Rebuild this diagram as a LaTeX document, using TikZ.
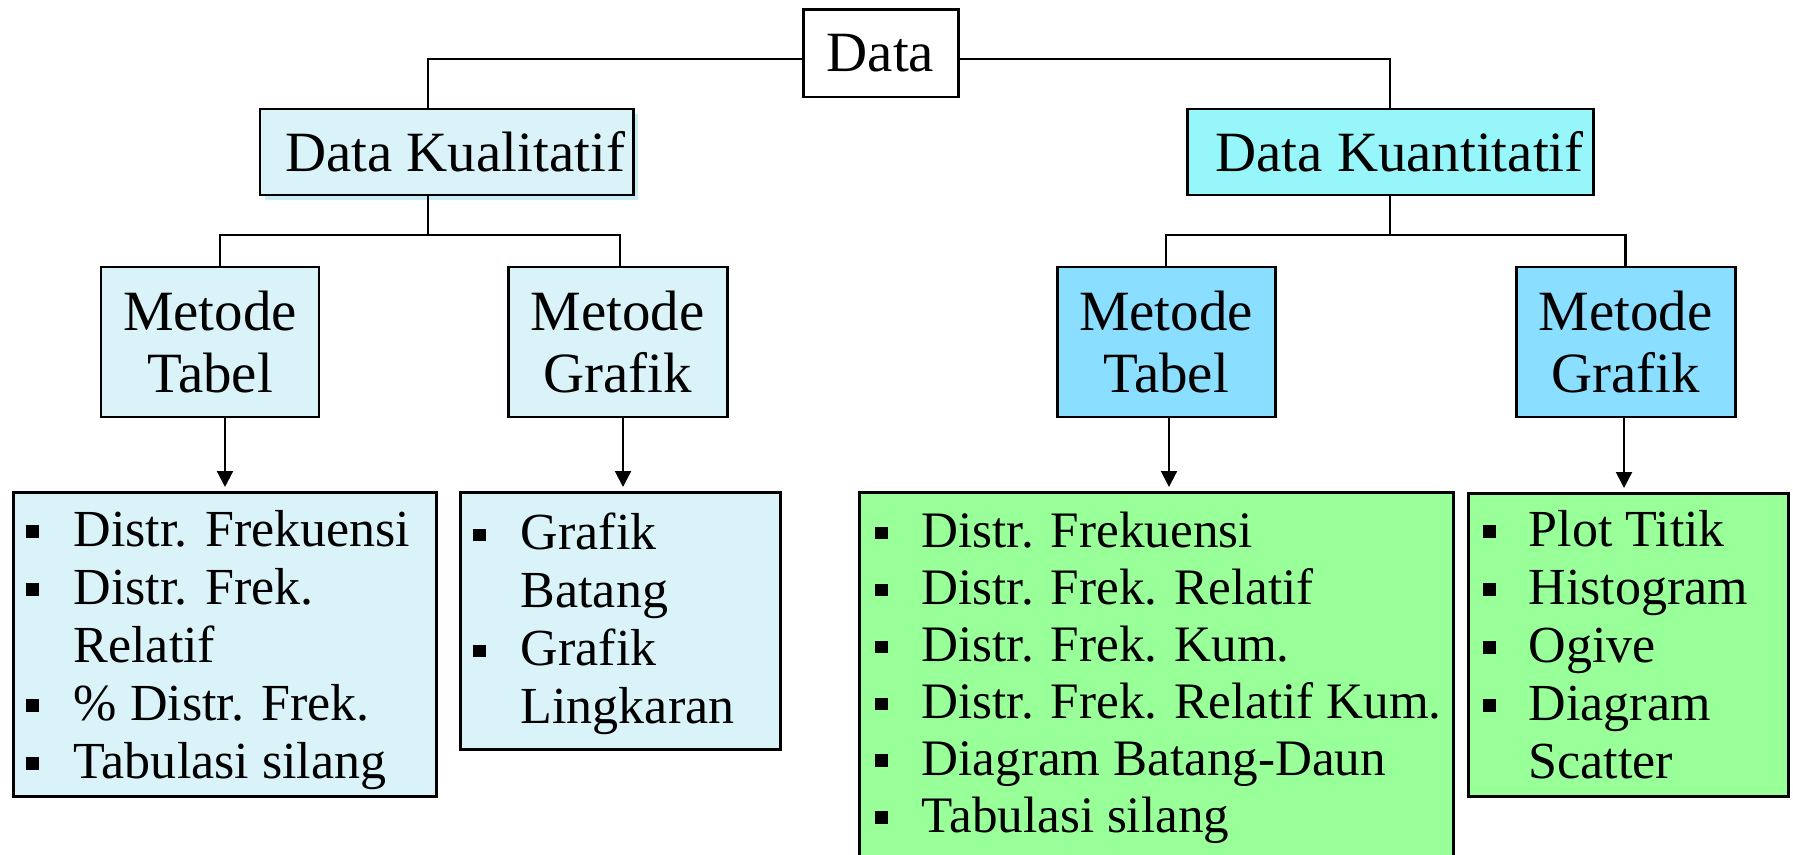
\documentclass[tikz,border=0pt]{standalone}
\usepackage{fontspec}
\setmainfont{Liberation Serif}
\usepackage{xcolor}
\usepackage{tikz}
\usetikzlibrary{arrows.meta,positioning,calc,shadows}
\definecolor{pucat}{RGB}{218,243,248}
\definecolor{bayang}{RGB}{200,236,246}
\definecolor{kuant}{RGB}{150,246,250}
\definecolor{biru}{RGB}{138,222,255}
\definecolor{hijau}{RGB}{153,255,153}
\newcommand{\judulfont}{\fontsize{16.2}{17.9}\selectfont}
\newcommand{\isifont}{\fontsize{14.8}{16.5}\selectfont}
\newcommand{\butir}[1][0.48cm]{\makebox[#1][l]{\rule[0.085cm]{0.13cm}{0.125cm}}}
\newcommand{\lanjut}[1][0.48cm]{\hspace*{#1}}

\begin{document}
\begin{tikzpicture}[
  kotak/.style={draw,line width=0.85pt,rectangle,inner sep=0pt,align=center,font=\judulfont},
  daftar/.style={draw,line width=0.85pt,rectangle,inner sep=0pt,anchor=north west},
  isi/.style={anchor=north west,inner sep=0pt,align=left,font=\isifont},
  garis/.style={line width=0.6pt},
  panah/.style={garis,-{Triangle[width=0.16cm,length=0.16cm]},shorten >=0.04cm}
]
\useasboundingbox (0,0) rectangle (17.93,-8.55);
% top levels
\node[kotak,fill=white,minimum width=1.55cm,minimum height=0.87cm] (data) at (8.805,-0.535) {Data};
\node[kotak,fill=pucat,minimum width=3.73cm,minimum height=0.86cm,
  drop shadow={shadow xshift=0.05cm,shadow yshift=-0.05cm,fill=bayang,opacity=1}] (kual) at (4.465,-1.52) {\hspace*{0.17cm}Data Kualitatif};
\node[kotak,fill=kuant,minimum width=4.06cm,minimum height=0.86cm] (kuant) at (13.90,-1.52) {\hspace*{0.19cm}Data Kuantitatif};
% methods
\node[kotak,fill=pucat,minimum width=2.18cm,minimum height=1.50cm] (mtL) at (2.10,-3.42) {Metode\\Tabel};
\node[kotak,fill=pucat,minimum width=2.19cm,minimum height=1.50cm] (mgL) at (6.175,-3.42) {Metode\\Grafik};
\node[kotak,fill=biru,minimum width=2.18cm,minimum height=1.50cm] (mtR) at (11.66,-3.42) {Metode\\Tabel};
\node[kotak,fill=biru,minimum width=2.19cm,minimum height=1.50cm] (mgR) at (16.255,-3.42) {Metode\\Grafik};
% lists
\node[daftar,fill=pucat,minimum width=4.23cm,minimum height=3.04cm] (l1) at (0.12,-4.91) {};
\node[daftar,fill=pucat,minimum width=3.20cm,minimum height=2.57cm] (l2) at (4.59,-4.91) {};
\node[daftar,fill=hijau,minimum width=5.94cm,minimum height=3.80cm] (l3) at (8.58,-4.91) {};
\node[daftar,fill=hijau,minimum width=3.20cm,minimum height=3.03cm] (l4) at (14.67,-4.92) {};
\node[isi] (t1) at ([xshift=0.13cm,yshift=-0.185cm]l1.north west) {%
  \butir Distr. Frekuensi\\
  \butir Distr. Frek.\\
  \lanjut Relatif\\
  \butir \% Distr. Frek.\\
  \butir Tabulasi silang};
\node[isi] (t2) at ([xshift=0.13cm,yshift=-0.215cm]l2.north west) {%
  \butir Grafik\\
  \lanjut Batang\\
  \butir Grafik\\
  \lanjut Lingkaran};
\node[isi,font=\fontsize{14.55}{16.2}\selectfont] (t3) at ([xshift=0.16cm,yshift=-0.205cm]l3.north west) {%
  \butir[0.47cm]Distr. Frekuensi\\
  \butir[0.47cm]Distr. Frek. Relatif\\
  \butir[0.47cm]Distr. Frek. Kum.\\
  \butir[0.47cm]Distr. Frek. Relatif Kum.\\
  \butir[0.47cm]Diagram Batang-Daun\\
  \butir[0.47cm]Tabulasi silang};
\node[isi] (t4) at ([xshift=0.15cm,yshift=-0.175cm]l4.north west) {%
  \butir[0.46cm]Plot Titik\\
  \butir[0.46cm]Histogram\\
  \butir[0.46cm]Ogive\\
  \butir[0.46cm]Diagram\\
  \lanjut[0.46cm]Scatter};
% tree lines
\coordinate (cabangL) at (4.28,-2.35);
\coordinate (cabangR) at (13.90,-2.35);
\draw[garis] ([yshift=-0.055cm]data.west) -| ([xshift=-0.185cm]kual.north);
\draw[garis] ([yshift=-0.055cm]data.east) -| (kuant.north);
\draw[garis] ([xshift=-0.185cm]kual.south) -- (cabangL);
\draw[garis] ([xshift=0.10cm]mtL.north) |- (cabangL) -| ([xshift=0.025cm]mgL.north);
\draw[garis] (kuant.south) -- (cabangR);
\draw[garis] (mtR.north) |- (cabangR) -| (mgR.north);
% arrows
\draw[panah] ([xshift=0.15cm]mtL.south) -- ([xshift=0.15cm]mtL.south |- l1.north);
\draw[panah] ([xshift=0.055cm]mgL.south) -- ([xshift=0.055cm]mgL.south |- l2.north);
\draw[panah] ([xshift=0.03cm]mtR.south) -- ([xshift=0.03cm]mtR.south |- l3.north);
\draw[panah] ([xshift=-0.015cm]mgR.south) -- ([xshift=-0.015cm]mgR.south |- l4.north);
\end{tikzpicture}
\end{document}
